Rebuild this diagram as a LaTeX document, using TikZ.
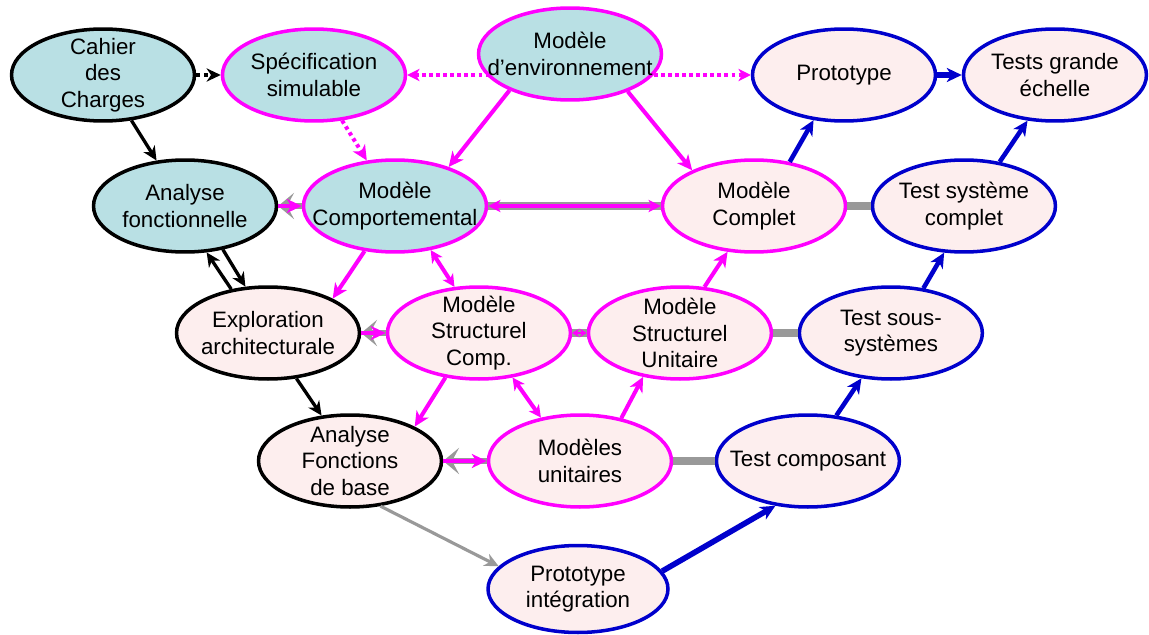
\documentclass[tikz,border=0pt]{standalone}
\usepackage{fontspec}
\setmainfont{Liberation Sans}
\usepackage{xcolor}
\definecolor{specTeal}{HTML}{B9E0E4}
\definecolor{implPink}{HTML}{FDEEEE}
\definecolor{modelMagenta}{HTML}{FF00FF}
\definecolor{testBlue}{HTML}{0000CC}
\definecolor{linkGray}{HTML}{999999}
\usepackage{tikz}
\usetikzlibrary{
    shapes.geometric,
    arrows.meta,
    positioning,
    backgrounds
}
\tikzset{
    % Base style for all ellipses
    vee base/.style={
        ellipse,
        font=\fontsize{12.7}{15}\selectfont,
        align=center,
        text=black,
        minimum width=3.66cm,
        minimum height=1.84cm,
        inner sep=-1cm,
        line width=2pt,
    },
    % Specification side - teal fill
    spec plain/.style={vee base, draw=black, fill=specTeal},
    spec model/.style={vee base, draw=modelMagenta, fill=specTeal},
    % Realisation side - pink fill
    impl plain/.style={vee base, draw=black, fill=implPink},
    impl model/.style={vee base, draw=modelMagenta, fill=implPink},
    impl test/.style={vee base, draw=testBlue, fill=implPink},
    % Arrows
    plain arrow/.style={
        -{Stealth[length=8pt, width=7.5pt, inset=2.5pt]},
        line width=1.9pt,
        draw=black,
    },
    plain dashed/.style={
        plain arrow,
        dash pattern=on 2.2pt off 2.2pt,
    },
    model arrow/.style={
        -{Stealth[length=8.5pt, width=8pt, inset=2.5pt]},
        line width=2.3pt,
        draw=modelMagenta,
    },
    model both/.style={
        model arrow,
        {Stealth[length=7pt, width=7pt, inset=2pt]}-{Stealth[length=7pt, width=7pt, inset=2pt]},
    },
    model both small/.style={
        model arrow,
        line width=1.4pt,
        {Stealth[length=4pt, width=5pt, inset=1.5pt]}-{Stealth[length=4pt, width=5pt, inset=1.5pt]},
    },
    model dotted/.style={
        model arrow,
        dash pattern=on 2pt off 2pt,
    },
    test arrow/.style={
        -{Stealth[length=8.5pt, width=8pt, inset=2.5pt]},
        line width=2.6pt,
        draw=testBlue,
    },
    % Grey links
    back arrow/.style={
        -{Stealth[length=9pt, width=15pt, inset=4pt]},
        line width=3.2pt,
        draw=linkGray,
    },
    gray arrow/.style={
        -{Stealth[length=8pt, width=7.5pt, inset=2.5pt]},
        line width=1.8pt,
        draw=linkGray,
    },
    link band/.style={
        line width=4.6pt,
        draw=linkGray,
    },
}

\begin{document}
\begin{tikzpicture}[x=0.02cm, y=-0.02cm, on grid]
    \useasboundingbox (0,0) rectangle (1149,635);

    % Row 1
    \node (cahier) [spec plain] at (103,75) {Cahier\\des\\Charges};
    \node (spec) [spec model, right=4.22cm of cahier] {Spécification\\simulable};
    \node (env) [spec model] at (570,54) {Modèle\\d’environnement};
    \node (proto) [impl test] at (844,75) {Prototype};
    \node (tge) [impl test, right=4.22cm of proto] {Tests grande\\échelle};

    % Row 2
    \node (af) [spec plain] at (185,206) {Analyse\\fonctionnelle};
    \node (comp) [spec model, right=4.2cm of af] {Modèle\\Comportemental};
    \node (complet) [impl model] at (754,206) {Modèle\\Complet};
    \node (tsc) [impl test, right=4.2cm of complet] {Test système\\complet};

    % Row 3
    \node (expl) [impl plain] at (268,333) {Exploration\\architecturale};
    \node (smc) [impl model, right=4.22cm of expl] {Modèle\\Structurel\\Comp.};
    \node (smu) [impl model, right=4.02cm of smc] {Modèle\\Structurel\\Unitaire};
    \node (tss) [impl test, right=4.22cm of smu] {Test sous-\\systèmes};

    % Row 4
    \node (afb) [impl plain] at (350,461) {Analyse\\Fonctions\\de base};
    \node (mu) [impl model, right=4.6cm of afb] {Modèles\\unitaires};
    \node (tc) [impl test, right=4.56cm of mu] {Test composant};

    % Row 5
    \node (pi) [impl test, minimum width=3.6cm, minimum height=1.74cm] at (578,589) {Prototype\\intégration};

    \begin{scope}[on background layer]
        \draw [model dotted, {Stealth[length=7pt, width=7pt, inset=2pt]}-{Stealth[length=7pt, width=7pt, inset=2pt]}] (spec) -- (proto);
    \end{scope}

    \draw [plain dashed] (cahier) -- (spec);
    \draw [plain arrow] (cahier) -- (af);
    \draw [model dotted] (spec) -- (comp);
    \draw [model arrow] (env.211) -- (comp.36);
    \draw [model arrow] (env.327) -- (complet.150);
    \draw [test arrow] (complet.51) -- (proto.236);
    \draw [test arrow, line width=3.2pt] (proto) -- (tge);
    \draw [test arrow] (tsc.51) -- (tge.239);

    \draw [back arrow] (comp) -- (af);
    \draw [model arrow] (af) -- (comp);
    \draw [link band] (comp) -- (complet);
    \draw [model both] (comp) -- (complet);
    \draw [link band] (complet) -- (tsc);

    \draw [plain arrow] (expl.130) -- (af.295);
    \draw [plain arrow] (af.311) -- (expl.116);
    \draw [model arrow] (comp.236) -- (expl.28);
    \draw [model both] (comp.309) -- (smc.118);

    \draw [back arrow] (smc) -- (expl);
    \draw [model arrow] (expl) -- (smc);
    \draw [link band] (smc) -- (smu);
    \draw [model both small] (smc) -- (smu);
    \draw [model arrow] (smu.62) -- (complet.240);
    \draw [link band] (smu) -- (tss);
    \draw [test arrow] (tss.54) -- (tsc.247);

    \draw [plain arrow] (expl.302) -- (afb.122);
    \draw [model arrow] (smc.233) -- (afb.28);
    \draw [model both] (smc.307) -- (mu.132);
    \draw [model arrow] (mu.46) -- (smu.230);
    \draw [back arrow] (mu) -- (afb);
    \draw [model arrow] (afb) -- (mu);
    \draw [link band] (mu) -- (tc);
    \draw [test arrow] (tc.58) -- (tss.237);

    \draw [gray arrow] (afb.304) -- (pi.164);
    \draw [test arrow, line width=3.2pt] (pi.12) -- (tc.234);
\end{tikzpicture}
\end{document}
